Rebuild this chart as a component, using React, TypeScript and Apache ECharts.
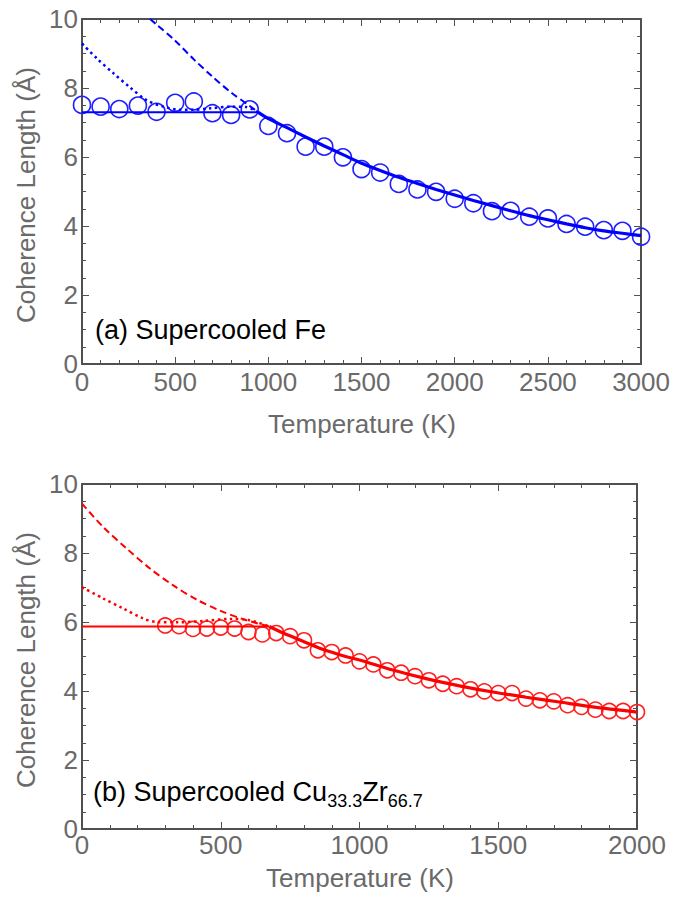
import React, { useEffect, useRef } from "react";
import * as echarts from "echarts";

// ---------- Panel (a): Supercooled Fe ----------
const FE_T = [0, 100, 200, 300, 400, 500, 600, 700, 800, 900, 1000, 1100, 1200, 1300, 1400, 1500,
  1600, 1700, 1800, 1900, 2000, 2100, 2200, 2300, 2400, 2500, 2600, 2700, 2800, 2900, 3000];
const FE_XI = [7.51, 7.46, 7.39, 7.49, 7.31, 7.57, 7.61, 7.27, 7.22, 7.38, 6.9, 6.69, 6.3, 6.3, 5.99, 5.65,
  5.55, 5.22, 5.06, 4.99, 4.79, 4.66, 4.43, 4.44, 4.27, 4.22, 4.06, 3.98, 3.88, 3.86, 3.69];

const FE_FLAT_T = [0, 944];
const FE_FLAT_XI = [7.3, 7.3];
const FE_FIT_T = [944, 1000, 1100, 1200, 1300, 1400, 1500, 1600, 1700, 1800, 1900, 2000, 2100, 2200,
  2300, 2400, 2500, 2600, 2700, 2800, 2900, 3000];
const FE_FIT_XI = [7.3, 7.11, 6.85, 6.58, 6.32, 6.07, 5.82, 5.61, 5.41, 5.23, 5.06, 4.9, 4.74, 4.59,
  4.44, 4.3, 4.18, 4.06, 3.95, 3.86, 3.79, 3.72];
const FE_DASH_T = [365, 400, 500, 600, 700, 800, 900, 944];
const FE_DASH_XI = [10.0, 9.84, 9.37, 8.83, 8.33, 7.87, 7.48, 7.3];
const FE_DOT_T = [0, 79, 168, 257, 346, 436, 525, 600, 686, 800, 880, 944];
const FE_DOT_XI = [9.29, 8.86, 8.43, 8.02, 7.65, 7.46, 7.37, 7.37, 7.41, 7.46, 7.45, 7.3];

// ---------- Panel (b): Supercooled Cu33.3Zr66.7 ----------
const CU_T = [300, 350, 400, 450, 500, 550, 600, 650, 700, 750, 800, 850, 900, 950, 1000, 1050, 1100,
  1150, 1200, 1250, 1300, 1350, 1400, 1450, 1500, 1550, 1600, 1650, 1700, 1750, 1800, 1850, 1900, 1950, 2000];
const CU_XI = [5.9, 5.88, 5.8, 5.81, 5.84, 5.81, 5.71, 5.64, 5.68, 5.59, 5.47, 5.18, 5.13, 5.03, 4.86, 4.77,
  4.6, 4.53, 4.43, 4.31, 4.21, 4.14, 4.05, 3.99, 3.94, 3.94, 3.78, 3.73, 3.7, 3.59, 3.54, 3.46, 3.42, 3.42, 3.39];

const CU_FLAT_T = [0, 675];
const CU_FLAT_XI = [5.87, 5.87];
const CU_FIT_T = [675, 725, 800, 870, 950, 1000, 1120, 1240, 1360, 1480, 1600, 1720, 1840, 2000];
const CU_FIT_XI = [5.87, 5.68, 5.43, 5.2, 5.0, 4.9, 4.61, 4.36, 4.15, 3.97, 3.82, 3.68, 3.54, 3.39];
const CU_DASH_T = [0, 77, 161, 245, 329, 413, 497, 581, 675];
const CU_DASH_XI = [9.43, 8.75, 8.13, 7.55, 7.06, 6.65, 6.33, 6.08, 5.87];
const CU_DOT_T = [0, 77, 149, 221, 269, 341, 437, 533, 600, 675];
const CU_DOT_XI = [7.01, 6.68, 6.39, 6.1, 6.0, 5.99, 6.03, 6.09, 6.06, 5.87];

const Y_MAX = 10;

const BLUE = "#0000ff";
const BLUE_MARK = "#1f1fff";
const RED = "#ff0000";
const RED_MARK = "#ff1f1f";
const AXIS = "#505050";
const LABEL = "#6a6a6a";
const FONT = "'Liberation Sans', Arial, Helvetica, sans-serif";

const pairs = (t: number[], v: number[]) => t.map((x, i) => [x, v[i]]);
const plain = (v: number) => String(v);

function xAxes(gridIndex: number, max: number, labelMargin: number) {
  const common = {
    gridIndex,
    type: "value",
    min: 0,
    max,
    interval: 500,
    axisLine: { show: true, onZero: false, lineStyle: { color: AXIS, width: 2 } },
    axisTick: { show: true, inside: true, length: 7, lineStyle: { color: AXIS, width: 1 } },
    minorTick: { show: true, splitNumber: 5, length: 4, lineStyle: { color: AXIS, width: 1 } },
    splitLine: { show: false },
    minorSplitLine: { show: false },
  };
  return [
    {
      ...common,
      position: "bottom",
      axisLabel: { color: LABEL, fontSize: 26, fontFamily: FONT, margin: labelMargin, formatter: plain },
    },
    { ...common, position: "top", axisLabel: { show: false } },
  ];
}

function yAxes(gridIndex: number) {
  const common = {
    gridIndex,
    type: "value",
    min: 0,
    max: Y_MAX,
    interval: 2,
    axisLine: { show: true, onZero: false, lineStyle: { color: AXIS, width: 2 } },
    axisTick: { show: true, inside: true, length: 7, lineStyle: { color: AXIS, width: 1 } },
    minorTick: { show: true, splitNumber: 4, length: 4, lineStyle: { color: AXIS, width: 1 } },
    splitLine: { show: false },
    minorSplitLine: { show: false },
  };
  return [
    {
      ...common,
      position: "left",
      axisLabel: { color: LABEL, fontSize: 26, fontFamily: FONT, margin: 4, formatter: plain },
    },
    { ...common, position: "right", axisLabel: { show: false } },
  ];
}

function lineSeries(xi: number, yi: number, data: number[][], color: string, width: number, type: any) {
  return {
    type: "line",
    xAxisIndex: xi,
    yAxisIndex: yi,
    data,
    symbol: "none",
    showSymbol: false,
    smooth: 0.3,
    clip: true,
    lineStyle: { color, width, type, cap: "butt" },
    z: 3,
  };
}

function scatterSeries(xi: number, yi: number, data: number[][], color: string, size: number) {
  return {
    type: "scatter",
    xAxisIndex: xi,
    yAxisIndex: yi,
    data,
    symbol: "circle",
    symbolSize: size,
    itemStyle: { color: "rgba(0,0,0,0)", borderColor: color, borderWidth: 1.6, opacity: 1 },
    z: 2,
  };
}

const textStyle = (text: string, fill: string, align: string) => ({
  text,
  fontSize: 26,
  fontFamily: FONT,
  fill,
  align,
  verticalAlign: "middle",
  textAlign: align,
  textVerticalAlign: "middle",
});

export default function App() {
  const ref = useRef<HTMLDivElement>(null);
  useEffect(() => {
    if (!ref.current) return;
    const chart = echarts.init(ref.current, null, { renderer: "svg" });
    const option: any = {
      animation: false,
      backgroundColor: "#ffffff",
      grid: [
        { left: 82, top: 19, width: 560, height: 345, containLabel: false },
        { left: 82, top: 484, width: 555, height: 345, containLabel: false },
      ],
      xAxis: [...xAxes(0, 3000, 5), ...xAxes(1, 2000, 3)],
      yAxis: [...yAxes(0), ...yAxes(1)],
      series: [
        scatterSeries(0, 0, pairs(FE_T, FE_XI), BLUE_MARK, 17),
        lineSeries(0, 0, pairs(FE_FLAT_T, FE_FLAT_XI), BLUE, 2, "solid"),
        lineSeries(0, 0, pairs(FE_FIT_T, FE_FIT_XI), BLUE, 3.2, "solid"),
        lineSeries(0, 0, pairs(FE_DASH_T, FE_DASH_XI), BLUE, 2, [7, 4]),
        lineSeries(0, 0, pairs(FE_DOT_T, FE_DOT_XI), BLUE, 2.5, [2.5, 3.5]),
        scatterSeries(2, 2, pairs(CU_T, CU_XI), RED_MARK, 15),
        lineSeries(2, 2, pairs(CU_FLAT_T, CU_FLAT_XI), RED, 2, "solid"),
        lineSeries(2, 2, pairs(CU_FIT_T, CU_FIT_XI), RED, 3.2, "solid"),
        lineSeries(2, 2, pairs(CU_DASH_T, CU_DASH_XI), RED, 2, [7, 4]),
        lineSeries(2, 2, pairs(CU_DOT_T, CU_DOT_XI), RED, 2.5, [2.5, 3.5]),
      ],
      graphic: [
        { type: "text", x: 362, y: 424, style: textStyle("Temperature (K)", LABEL, "center") },
        { type: "text", x: 360, y: 878, style: textStyle("Temperature (K)", LABEL, "center") },
        {
          type: "text",
          x: 26,
          y: 195,
          rotation: Math.PI / 2,
          style: textStyle("Coherence Length (Å)", LABEL, "center"),
        },
        {
          type: "text",
          x: 26,
          y: 660,
          rotation: Math.PI / 2,
          style: textStyle("Coherence Length (Å)", LABEL, "center"),
        },
        { type: "text", x: 95, y: 330, style: { ...textStyle("(a) Supercooled Fe", "#000000", "left"), fontSize: 27 } },
        {
          type: "text",
          x: 93,
          y: 792,
          style: {
            ...textStyle("(b) Supercooled Cu{s|33.3}Zr{s|66.7}", "#000000", "left"),
            fontSize: 27,
            lineHeight: 36,
            rich: {
              s: {
                fontSize: 18,
                fontFamily: FONT,
                fill: "#000000",
                verticalAlign: "bottom",
                lineHeight: 20,
              },
            },
          },
        },
      ],
    };
    chart.setOption(option);
    return () => chart.dispose();
  }, []);
  return (
    <div
      ref={ref}
      style={{ position: "absolute", left: 0, top: 0, width: 673, height: 899, background: "#fff" }}
    />
  );
}
